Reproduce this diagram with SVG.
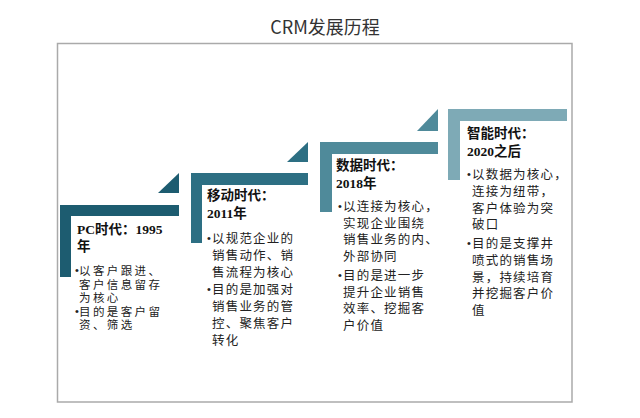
<svg xmlns="http://www.w3.org/2000/svg" width="640" height="418" viewBox="0 0 640 418">
<style>
.title{font-family:"Noto Sans CJK SC","Noto Sans",sans-serif;font-size:18px;fill:#333}
.head{font-family:"Liberation Serif","Noto Sans CJK SC",serif;font-size:13.5px;font-weight:bold;fill:#111}
.body{font-family:"Noto Sans CJK SC","Noto Sans",sans-serif;font-size:12.5px;fill:#222;letter-spacing:1.2px}
.small{font-size:11.5px;letter-spacing:2.4px}
.bul{font-family:"Liberation Sans",sans-serif;font-size:11px;fill:#222}
.c1{fill:#1d5c70}.c2{fill:#2d6f83}.c3{fill:#4f8a9a}.c4{fill:#7eaab6}
</style>
<rect x="0" y="0" width="640" height="418" fill="#fff"/>
<text class="title" x="325" y="34" text-anchor="middle">CRM发展历程</text>
<rect x="57.5" y="43.5" width="514.5" height="358.5" fill="none" stroke="#aaa" stroke-width="1.5"/>
<g id="connectors">
<polygon class="c1" points="179,173 179,193 158,193"/>
<polygon class="c2" points="308,142 308,162 287,162"/>
<polygon class="c3" points="438,109 438,131 417,131"/>
</g>
<g id="node1">
<path class="c1" d="M60,205 H179 V216 H71 V277 H60 Z"/>
<text class="head" x="77" y="234">PC时代：1995</text>
<text class="head" x="77" y="251">年</text>
<text class="bul" x="75" y="274">•</text>
<text class="bul" x="75" y="315">•</text>
<text class="body small" y="275"><tspan x="79">以客户跟进、</tspan><tspan x="79" y="288.5">客户信息留存</tspan><tspan x="79" y="302">为核心</tspan><tspan x="79" y="315.5">目的是客户留</tspan><tspan x="79" y="329">资、筛选</tspan></text>
</g>
<g id="node2">
<path class="c2" d="M191,173 H308 V185 H202 V243 H191 Z"/>
<text class="head" x="207" y="200">移动时代：</text>
<text class="head" x="207" y="218">2011年</text>
<text class="bul" x="207" y="242">•</text>
<text class="bul" x="207" y="293">•</text>
<text class="body" y="243"><tspan x="212">以规范企业的</tspan><tspan x="212" y="260">销售动作、销</tspan><tspan x="212" y="277">售流程为核心</tspan><tspan x="212" y="294">目的是加强对</tspan><tspan x="212" y="311">销售业务的管</tspan><tspan x="212" y="328">控、聚焦客户</tspan><tspan x="212" y="345">转化</tspan></text>
</g>
<g id="node3">
<path class="c3" d="M320,142 H438 V154 H332 V212 H320 Z"/>
<text class="head" x="336" y="170">数据时代：</text>
<text class="head" x="336" y="188">2018年</text>
<text class="bul" x="338" y="210">•</text>
<text class="bul" x="338" y="279">•</text>
<text class="body" y="211"><tspan x="343">以连接为核心，</tspan><tspan x="343" y="227.5">实现企业围绕</tspan><tspan x="343" y="244">销售业务的内、</tspan><tspan x="343" y="260.5">外部协同</tspan><tspan x="343" y="280">目的是进一步</tspan><tspan x="343" y="296.5">提升企业销售</tspan><tspan x="343" y="313">效率、挖掘客</tspan><tspan x="343" y="329.5">户价值</tspan></text>
</g>
<g id="node4">
<path class="c4" d="M448,109 H567 V121 H460 V180 H448 Z"/>
<text class="head" x="467" y="138">智能时代：</text>
<text class="head" x="467" y="156">2020之后</text>
<text class="bul" x="467" y="178">•</text>
<text class="bul" x="467" y="247">•</text>
<text class="body" y="179"><tspan x="472">以数据为核心，</tspan><tspan x="472" y="196">连接为纽带，</tspan><tspan x="472" y="213">客户体验为突</tspan><tspan x="472" y="229">破口</tspan><tspan x="472" y="248">目的是支撑井</tspan><tspan x="472" y="265">喷式的销售场</tspan><tspan x="472" y="281.5">景，持续培育</tspan><tspan x="472" y="298">并挖掘客户价</tspan><tspan x="472" y="314.5">值</tspan></text>
</g>
</svg>
